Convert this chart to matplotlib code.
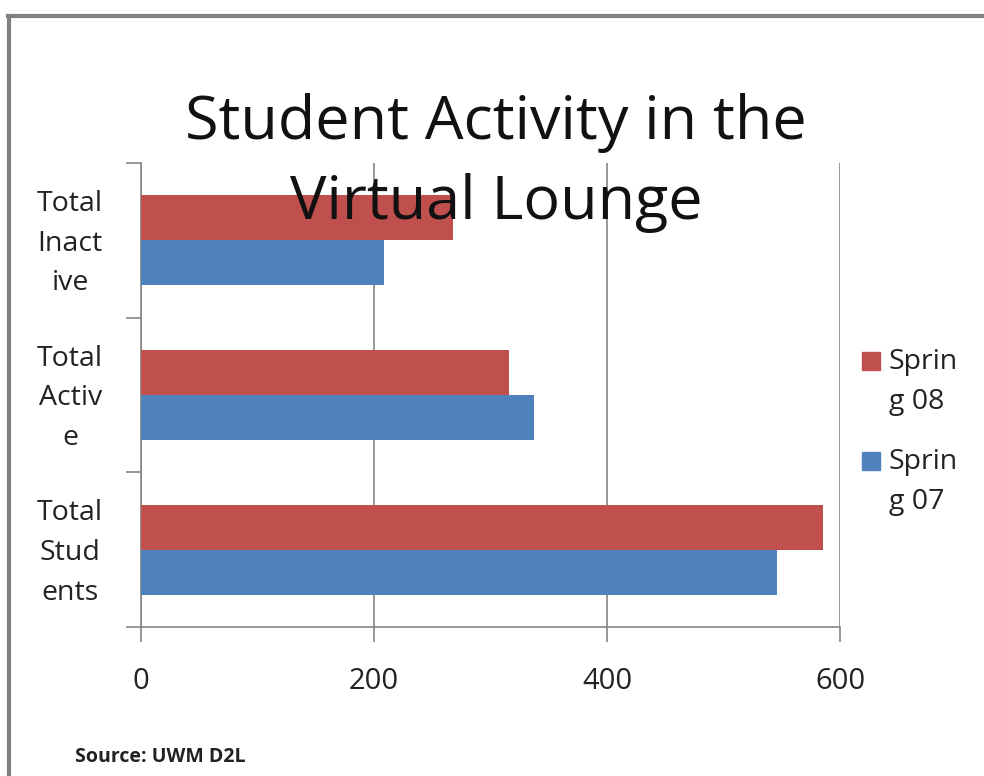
import matplotlib
matplotlib.use("Agg")
import matplotlib.pyplot as plt
from matplotlib.lines import Line2D
from matplotlib.patches import Rectangle
import matplotlib.transforms as mtrans
import numpy as np

categories = ["Total\nStud\nents", "Total\nActiv\ne", "Total\nInact\nive"]
spring08 = [585, 316, 268]
spring07 = [546, 337, 209]
series_labels = ["Sprin\ng 08", "Sprin\ng 07"]
xticks = [0, 200, 400, 600]

RED = "#C0504D"
BLUE = "#4F81BD"
GRID = "#868686"
FONT = ["Open Sans", "DejaVu Sans"]
plt.rcParams["font.family"] = FONT

fig = plt.figure(figsize=(9.84, 7.76), dpi=100)
ax = fig.add_axes([141/984, 1-627/776, (840-141)/984, (627-163)/776])

y = np.arange(len(categories))
h = 0.29
ax.barh(y + h/2, spring08, height=h, color=RED, zorder=3)
ax.barh(y - h/2, spring07, height=h, color=BLUE, zorder=3)

ax.set_xlim(0, 600)
ax.set_ylim(-0.5, 2.5)
ax.set_xticks(xticks)
ax.set_xticklabels([str(v) for v in xticks], fontsize=21, color="#222222")
ax.set_yticks([-0.5, 0.5, 1.5, 2.5])
ax.set_yticklabels([])
ax.set_yticks(y, minor=True)
ax.set_yticklabels(categories, minor=True, fontsize=20.5, color="#222222",
                   linespacing=1.56, ha="center")
ax.tick_params(axis="y", which="minor", length=0, pad=51)
ax.tick_params(axis="y", which="major", length=11, color=GRID, width=1.2)
ax.tick_params(axis="x", length=11, color=GRID, width=1.2, pad=18)
ax.xaxis.grid(True, color=GRID, linewidth=1.2, zorder=0)
for s in ["top", "right"]:
    ax.spines[s].set_visible(False)
for s in ["left", "bottom"]:
    ax.spines[s].set_color(GRID)
    ax.spines[s].set_linewidth(1.2)

up = mtrans.ScaledTranslation(0, 6/100, fig.dpi_scale_trans)
for lab in ax.get_yticklabels(minor=True):
    lab.set_transform(lab.get_transform() + up)

fig.text(496/984, 1-163/776, "Student Activity in the\nVirtual Lounge",
         ha="center", va="center", fontsize=44, color="#111111",
         linespacing=1.42, zorder=10)

# legend: square aligned with the first text line
for i, (lab, col) in enumerate(zip(series_labels, [RED, BLUE])):
    yc = 361 + 100 * i
    fig.add_artist(Rectangle((862/984, 1-(yc+9)/776), 18/984, 18/776,
                             color=col, transform=fig.transFigure))
    fig.text(889/984, 1-(yc-13)/776, lab, fontsize=20.5, color="#222222",
             va="top", ha="left", linespacing=1.56)

fig.text(75/984, 1-757/776, "Source: UWM D2L", fontsize=14,
         fontweight="bold", color="#222222", va="center")

# frame lines
fig.add_artist(Line2D([8/984, 1], [1-16/776, 1-16/776], color="#808080",
                      linewidth=3, transform=fig.transFigure))
fig.add_artist(Line2D([9/984, 9/984], [0, 1-16/776], color="#808080",
                      linewidth=3, transform=fig.transFigure))

fig.savefig("out.png", dpi=100)
